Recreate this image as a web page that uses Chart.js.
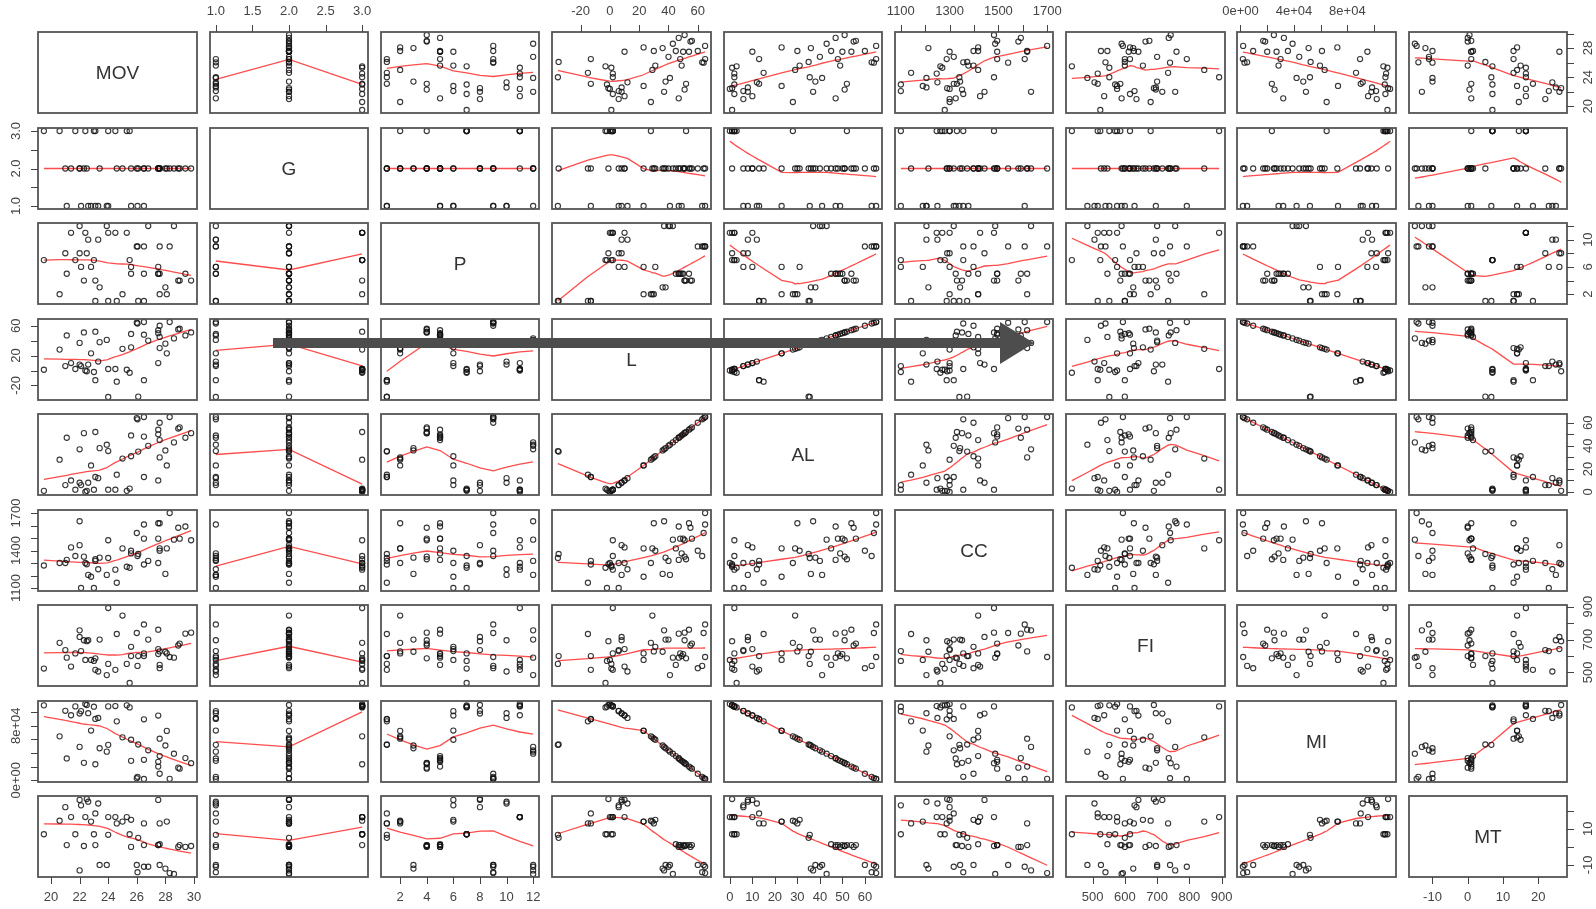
<!DOCTYPE html>
<html>
<head>
<meta charset="utf-8">
<title>Scatterplot matrix</title>
<script src="https://cdn.jsdelivr.net/npm/chart.js@4.4.1/dist/chart.umd.min.js"></script>
<style>
  html, body { margin: 0; padding: 0; background: #fff; }
  #grid { position: relative; width: 1596px; height: 909px; overflow: hidden; }
  #grid canvas { position: absolute; }
  .arrow-bar { position: absolute; left: 273px; top: 338px; width: 729px; height: 10px; background: #4d4d4d; z-index: 5; }
  .arrow-head { position: absolute; left: 1000px; top: 322px; width: 0; height: 0;
    border-top: 21px solid transparent; border-bottom: 21px solid transparent; border-left: 34px solid #4d4d4d; z-index: 5; }
</style>
</head>
<body>
<div id="grid"><div class="arrow-bar"></div><div class="arrow-head"></div></div>
<script>
const mov = [19.5, 20.6, 21.0, 21.1, 21.4, 21.7, 22.0, 22.0, 22.1, 22.3, 22.4, 22.5, 22.6, 22.8, 23.0, 23.1, 23.1, 23.4, 23.3, 23.9,
  24.0, 24.5, 24.6, 25.0, 25.3, 25.5, 25.6, 25.6, 26.0, 26.05, 26.5, 26.5, 26.5, 26.8, 27.5, 27.5, 27.6, 27.6, 27.5, 27.6,
  28.0, 28.1, 28.3, 28.6, 28.9, 29.0, 29.4, 29.8, 24.0, 26.1];
const g = [3, 3, 2, 1, 2, 3, 2, 2, 1, 2, 3, 2, 1, 1, 3, 1, 3, 2, 1, 1,
  3, 3, 2, 2, 3, 3, 2, 1, 2, 1, 1, 2, 2, 2, 2, 2, 2, 2, 2, 2,
  2, 2, 2, 2, 2, 2, 2, 2, 1, 2];
const p = [7, 2, 8, 5, 11, 7, 12, 8, 6, 4, 11, 8, 10, 6, 7, 1, 4, 3, 10, 12,
  11, 11, 1, 2, 11, 7, 6, 5, 9, 9, 9, 5, 1, 12, 5, 5, 5, 9, 6, 2,
  3, 2, 9, 12, 4, 4, 5, 4, 1, 1];
const lat = [1, 28, 6, 47, 10, 2, 37, 8, 6, 51, 0, -1, 8, 23, -2, -13, 52, 38, 12, 41,
  2, 2, -15, 29, 1, -3, 31, 49, 64, 63, 65, 48, -13, 40, 54, 50, 45, 60, 10, 30,
  36, 23, 65, 43, 55, 56, 47, 51, -35.5, -35];
const absLat = [1, 28, 6, 47, 10, 2, 37, 8, 6, 51, 0, 1, 8, 23, 2, 13, 52, 38, 12, 41,
  2, 2, 15, 29, 1, 3, 31, 49, 64, 63, 65, 48, 13, 40, 54, 50, 45, 60, 10, 30,
  36, 23, 65, 43, 55, 56, 47, 51, 35.5, 35];
const cc = [1280, 1300, 1300, 1325, 1425, 1356, 1634, 1443, 1100, 1351, 1300, 1290, 1205, 1190, 1100, 1317, 1330, 1343, 1250, 1205,
  1482, 1247, 1142, 1417, 1270, 1262, 1398, 1377, 1540, 1356, 1608, 1495, 1288, 1317, 1618, 1495, 1417, 1398, 1300, 1618,
  1213, 1417, 1700, 1487, 1582, 1495, 1592, 1482, 1340, 1372];
const fi = [524, 680, 636, 590, 536, 616, 756, 716, 630, 696, 576, 690, 696, 576, 570, 516, 586, 700, 506, 484,
  892, 516, 734, 846, 552, 436, 656, 600, 740, 540, 792, 616, 600, 700, 760, 612, 546, 526, 642, 628,
  626, 616, 594, 590, 664, 676, 736, 742, 552, 600];
const mi = [110000, 64500, 102000, 32000, 95500, 108500, 49000, 98000, 101500, 25500, 112000, 110500, 98500, 73000, 108000, 90000, 23500, 47000, 91500, 42000,
  108500, 109000, 86500, 63000, 110000, 107000, 59500, 28500, 3000, 5000, 1800, 30000, 89500, 44000, 20000, 27000, 35500, 9500, 95000, 61000,
  51000, 72500, 2000, 39000, 18500, 17000, 32500, 25000, 52000, 52500];
const mt = [7, 14.5, 22, 1, 16.5, 7, -13, 26, 23, 0.5, 16.5, 26.5, 25, 14, 7, 18.5, 1, -10, 24, -10,
  16.5, 16.5, 13, 14, 16.5, 7, 15, 0, -10, -14, -11, 1, 13, -11, 1, 1, 1.5, -10, 26, 13,
  -12, 14, -14.5, -15, 0, 1, 0, 0.5, 6.7, 5];

const varNames = ['MOV', 'G', 'P', 'L', 'AL', 'CC', 'FI', 'MI', 'MT'];
const columns = [mov, g, p, lat, absLat, cc, fi, mi, mt];

// axis ticks, and which of them get a label on the outer/side axes
const movTicks = [20, 22, 24, 26, 28, 30];
const gTicks = [1, 1.5, 2, 2.5, 3];
const pTicks = [2, 4, 6, 8, 10, 12];
const latTicks = [-20, 0, 20, 40, 60];
const alTicks = [0, 10, 20, 30, 40, 50, 60];
const ccTicks = [1100, 1200, 1300, 1400, 1500, 1600, 1700];
const fiTicks = [500, 600, 700, 800, 900];
const miTicks = [0, 20000, 40000, 60000, 80000, 100000];
const mtTicks = [-10, 0, 10, 20];
const allTicks = [movTicks, gTicks, pTicks, latTicks, alTicks, ccTicks, fiTicks, miTicks, mtTicks];

const horizLabels = [movTicks, gTicks, pTicks, latTicks, alTicks, [1100, 1300, 1500, 1700], fiTicks, [0, 40000, 80000], mtTicks];
const vertLabels = [[20, 24, 28], [1, 2, 3], [2, 6, 10], [-20, 20, 60], [0, 20, 40, 60], [1100, 1400, 1700], [500, 700, 900], [0, 80000], [-10, 10]];

// panel geometry
const X0 = 38.3, DX = 171.3, BW = 158.5;
const Y0 = 32.3, DY = 95.5, BH = 81;
const M = 36;

const FONT = '"Liberation Sans", Arial, sans-serif';
const boxColor = '#555';
const tickColor = '#444';

function fmtTick(name, v) {
  if (name === 'G') return v.toFixed(1);
  if (name === 'MI') {
    if (v === 0) return '0e+00';
    const e = Math.floor(Math.log10(Math.abs(v)));
    return (v / Math.pow(10, e)) + 'e+' + String(e).padStart(2, '0');
  }
  return String(v);
}

function padRange(arr) {
  const lo = Math.min(...arr), hi = Math.max(...arr);
  const d = (hi - lo) * 0.04;
  return [lo - d, hi + d];
}

// port of R's clowess (lowess with f = 2/3, iter = 3)
function lowest(x, y, n, xs, nleft, nright, userw, rw) {
  const range = x[n - 1] - x[0];
  const h = Math.max(xs - x[nleft], x[nright] - xs);
  const h9 = 0.999 * h, h1 = 0.001 * h;
  const w = new Array(n).fill(0);
  let a = 0, j = nleft;
  while (j < n) {
    const r = Math.abs(x[j] - xs);
    if (r <= h9) {
      w[j] = r <= h1 ? 1 : Math.pow(1 - Math.pow(r / h, 3), 3);
      if (userw) w[j] *= rw[j];
      a += w[j];
    } else if (x[j] > xs) break;
    j++;
  }
  const nrt = j - 1;
  if (a <= 0) return null;
  for (j = nleft; j <= nrt; j++) w[j] /= a;
  if (h > 0) {
    a = 0;
    for (j = nleft; j <= nrt; j++) a += w[j] * x[j];
    let b = xs - a, c = 0;
    for (j = nleft; j <= nrt; j++) c += w[j] * (x[j] - a) * (x[j] - a);
    if (Math.sqrt(c) > 0.001 * range) {
      b /= c;
      for (j = nleft; j <= nrt; j++) w[j] *= (b * (x[j] - a) + 1);
    }
  }
  let ys = 0;
  for (j = nleft; j <= nrt; j++) ys += w[j] * y[j];
  return ys;
}

function lowess(xIn, yIn, f = 2 / 3, nsteps = 3) {
  const order = xIn.map((_, i) => i).sort((a, b) => xIn[a] - xIn[b]);
  const x = order.map(i => xIn[i]);
  const y = order.map(i => yIn[i]);
  const n = x.length;
  const ns = Math.max(2, Math.min(n, Math.floor(f * n + 1e-7)));
  const delta = 0.01 * (x[n - 1] - x[0]);
  const ys = new Array(n).fill(0);
  const rw = new Array(n).fill(1);
  for (let iter = 1; iter <= nsteps + 1; iter++) {
    let nleft = 0, nright = ns - 1, last = -1, i = 0;
    do {
      while (nright < n - 1) {
        if (x[i] - x[nleft] <= x[nright + 1] - x[i]) break;
        nleft++; nright++;
      }
      const fit = lowest(x, y, n, x[i], nleft, nright, iter > 1, rw);
      ys[i] = fit === null ? y[i] : fit;
      if (last < i - 1) {
        const denom = x[i] - x[last];
        for (let j = last + 1; j < i; j++) {
          const alpha = (x[j] - x[last]) / denom;
          ys[j] = alpha * ys[i] + (1 - alpha) * ys[last];
        }
      }
      last = i;
      const cut = x[last] + delta;
      for (i = last + 1; i < n; i++) {
        if (x[i] > cut) break;
        if (x[i] === x[last]) { ys[i] = ys[last]; last = i; }
      }
      i = Math.max(last + 1, i - 1);
    } while (last < n - 1);
    if (iter > nsteps) break;
    const res = y.map((v, k) => Math.abs(v - ys[k]));
    const sorted = res.slice().sort((a, b) => a - b);
    const m = Math.floor(n / 2);
    const cmad = n % 2 === 0 ? 3 * (sorted[m] + sorted[m - 1]) : 6 * sorted[m];
    const sc = res.reduce((s, v) => s + v, 0) / n;
    if (cmad < 1e-7 * sc) break;
    for (let k = 0; k < n; k++) {
      const r = res[k];
      rw[k] = r <= 0.001 * cmad ? 1 : r <= 0.999 * cmad ? Math.pow(1 - Math.pow(r / cmad, 2), 2) : 0;
    }
  }
  return x.map((v, k) => ({ x: v, y: ys[k] }));
}

// box, outer axes and the diagonal names
const pairsFrame = {
  id: 'pairsFrame',
  afterDraw(chart, args, opts) {
    const { ctx, chartArea: a, scales } = chart;
    ctx.save();
    ctx.strokeStyle = boxColor;
    ctx.lineWidth = 1.8;
    ctx.strokeRect(a.left, a.top, a.right - a.left, a.bottom - a.top);

    if (opts.label) {
      ctx.fillStyle = '#333';
      ctx.font = '19px ' + FONT;
      ctx.textAlign = 'center';
      ctx.textBaseline = 'middle';
      ctx.fillText(opts.label, (a.left + a.right) / 2, (a.top + a.bottom) / 2 + 1);
    }

    ctx.font = '13px ' + FONT;
    ctx.fillStyle = tickColor;
    ctx.strokeStyle = tickColor;
    ctx.lineWidth = 1;
    ctx.textAlign = 'center';
    ctx.textBaseline = 'middle';

    if (opts.top || opts.bottom) {
      const sx = scales.x;
      const y0 = opts.top ? a.top : a.bottom;
      const dir = opts.top ? -1 : 1;
      opts.xTicks.forEach(v => {
        if (v < sx.min || v > sx.max) return;
        const px = Math.round(sx.getPixelForValue(v)) + 0.5;
        ctx.beginPath(); ctx.moveTo(px, y0); ctx.lineTo(px, y0 + dir * 7); ctx.stroke();
      });
      opts.xLabels.forEach(v => {
        if (v < sx.min || v > sx.max) return;
        ctx.fillText(fmtTick(opts.xName, v), sx.getPixelForValue(v), y0 + dir * 20.5);
      });
    }
    if (opts.left || opts.right) {
      const sy = scales.y;
      const x0 = opts.left ? a.left : a.right;
      const dir = opts.left ? -1 : 1;
      opts.yTicks.forEach(v => {
        if (v < sy.min || v > sy.max) return;
        const py = Math.round(sy.getPixelForValue(v)) + 0.5;
        ctx.beginPath(); ctx.moveTo(x0, py); ctx.lineTo(x0 + dir * 7, py); ctx.stroke();
      });
      opts.yLabels.forEach(v => {
        if (v < sy.min || v > sy.max) return;
        ctx.save();
        ctx.translate(x0 + dir * 21.5, sy.getPixelForValue(v));
        ctx.rotate(-Math.PI / 2);
        ctx.fillText(fmtTick(opts.yName, v), 0, 0);
        ctx.restore();
      });
    }
    ctx.restore();
  }
};

const grid = document.getElementById('grid');
const ranges = columns.map(padRange);

for (let i = 0; i < 9; i++) {
  for (let j = 0; j < 9; j++) {
    const bx = Math.round(X0 + DX * j), bx2 = Math.round(X0 + DX * j + BW);
    const by = Math.round(Y0 + DY * i), by2 = Math.round(Y0 + DY * i + BH);
    const w = bx2 - bx, h = by2 - by;

    const canvas = document.createElement('canvas');
    canvas.width = w + 2 * M;
    canvas.height = h + 2 * M;
    canvas.style.left = (bx - M) + 'px';
    canvas.style.top = (by - M) + 'px';
    grid.appendChild(canvas);

    const datasets = [];
    if (i !== j) {
      const xs = columns[j], ys = columns[i];
      datasets.push({
        data: xs.map((v, k) => ({ x: v, y: ys[k] })),
        pointStyle: 'circle',
        pointRadius: 2.6,
        borderWidth: 1.1,
        borderColor: 'rgba(20,20,20,0.85)',
        backgroundColor: 'rgba(0,0,0,0)',
        clip: false
      });
      // smoother is clipped to the panel like R does
      datasets.push({
        data: lowess(xs, ys),
        showLine: true,
        pointRadius: 0,
        borderColor: 'rgba(255,45,45,0.85)',
        borderWidth: 1.3,
        fill: false,
        clip: 0
      });
    }

    new Chart(canvas, {
      type: 'scatter',
      data: { datasets },
      options: {
        responsive: false,
        animation: false,
        devicePixelRatio: 1,
        events: [],
        layout: { padding: M },
        plugins: {
          legend: { display: false },
          tooltip: { enabled: false },
          pairsFrame: {
            label: i === j ? varNames[i] : null,
            top: i === 0 && j % 2 === 1,
            bottom: i === 8 && j % 2 === 0,
            left: j === 0 && i % 2 === 1,
            right: j === 8 && i % 2 === 0,
            xName: varNames[j], xTicks: allTicks[j], xLabels: horizLabels[j],
            yName: varNames[i], yTicks: allTicks[i], yLabels: vertLabels[i]
          }
        },
        scales: {
          x: { type: 'linear', display: false, min: ranges[j][0], max: ranges[j][1] },
          y: { type: 'linear', display: false, min: ranges[i][0], max: ranges[i][1] }
        }
      },
      plugins: [pairsFrame]
    });
  }
}
</script>
</body>
</html>
